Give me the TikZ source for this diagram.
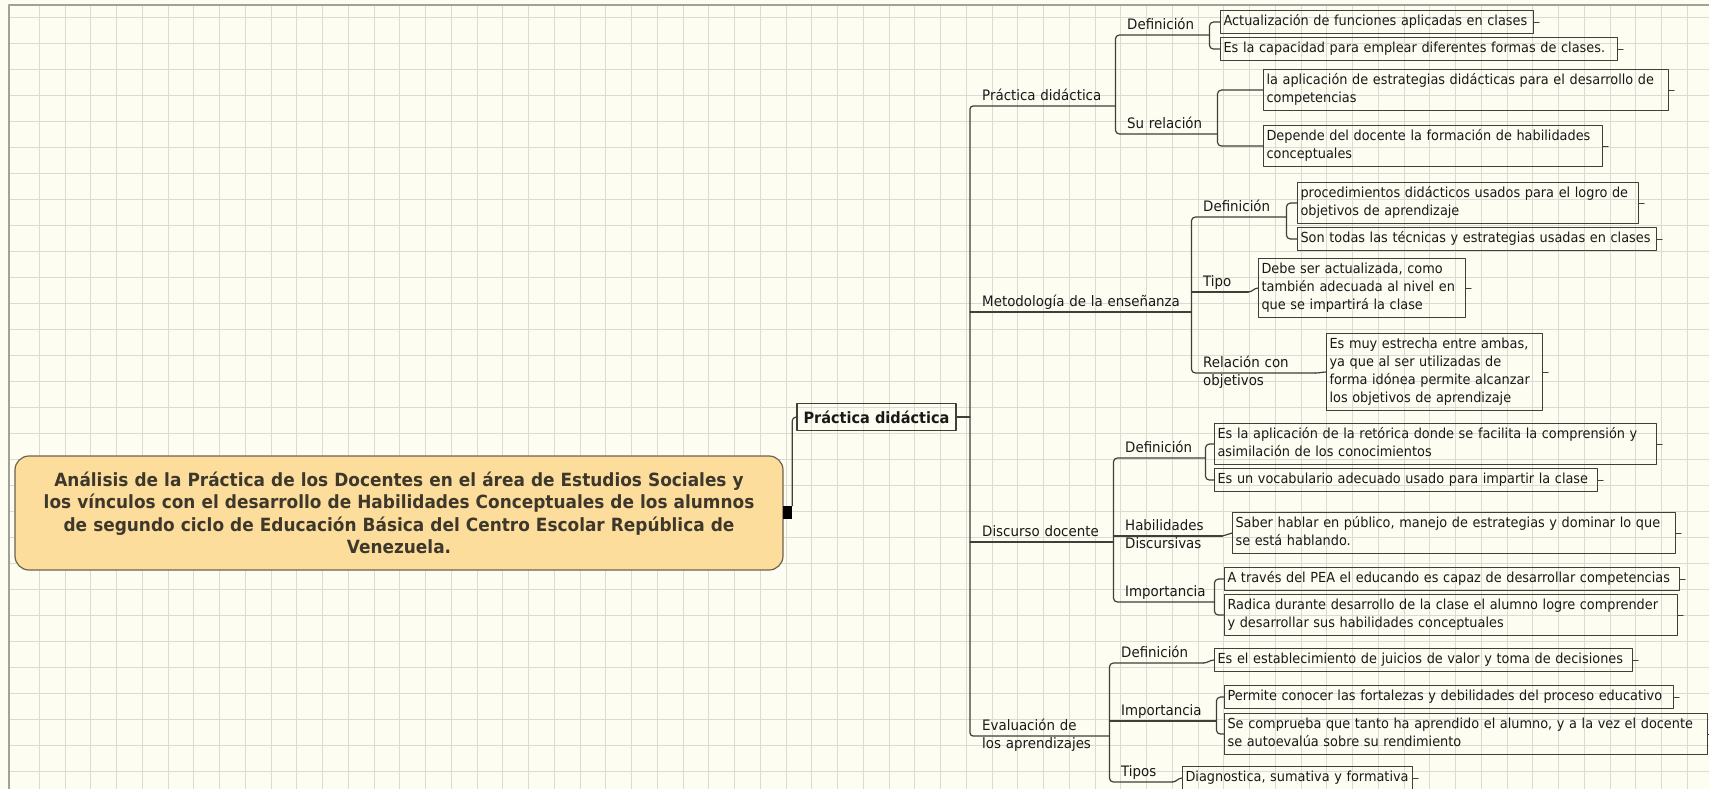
\documentclass[tikz,border=0pt]{standalone}
\usepackage{fontspec}
\setmainfont{DejaVu Sans}[FakeStretch=0.93]
\definecolor{fdfdf1}{rgb}{0.992,0.992,0.945}
\definecolor{dfdfd4}{rgb}{0.86,0.86,0.82}
\definecolor{aaaaa0}{rgb}{0.63,0.63,0.6}
\definecolor{fcdd9c}{rgb}{0.988,0.867,0.612}
\definecolor{wwtttt}{rgb}{0.43,0.39,0.31}
\definecolor{rrqqqq}{rgb}{0.24,0.22,0.17}
\definecolor{qqqqqq}{rgb}{0.1,0.1,0.1}
\definecolor{zzzzzz}{rgb}{0.25,0.25,0.23}

\begin{document}
\begin{tikzpicture}[line cap=round,line join=round,x=1pt,y=-1pt,
	gridline/.style={draw=dfdfd4,line width=0.9pt},
	frameline/.style={draw=aaaaa0,line width=1.4pt},
	conn/.style={draw=zzzzzz,line width=1.2pt},
	rootbox/.style={draw=wwtttt,fill=fcdd9c,line width=1.2pt,rounded corners=14pt,minimum width=768pt,minimum height=114pt,align=center,text width=760pt,text=rrqqqq,font=\fontsize{18.2}{22.5}\selectfont\bfseries},
	port/.style={fill=black,minimum width=9pt,minimum height=13pt,inner sep=0pt},
	mainbox/.style={draw=zzzzzz,line width=1.2pt,minimum width=159pt,minimum height=27pt,inner sep=0pt,text=qqqqqq,font=\fontsize{15.6}{18}\selectfont\bfseries},
	lbl/.style={anchor=south west,align=left,inner xsep=0pt,inner ysep=2pt,text depth=3pt,text=qqqqqq,font=\fontsize{14.4}{17.5}\selectfont},
	leaf/.style={draw=zzzzzz,line width=1.1pt,anchor=north west,align=left,inner xsep=3pt,inner ysep=2.5pt,text=qqqqqq,font=\fontsize{13.85}{18}\selectfont,execute at begin node={\strut\rightskip=0pt plus 1fil minus 40pt},execute at end node=\strut}]
	\useasboundingbox (0,0) rectangle (1709,789);
	\clip (0,0) rectangle (1709,789);
	\fill[fdfdf1] (0,0) rectangle (1709,789);
	\foreach \i in {0,...,65} \draw[gridline] ({39.3+25.75*\i},5) -- (39.3+25.75*\i,789);
	\foreach \j in {0,...,29} \draw[gridline] (9,{17.3+26*\j}) -- (1709,17.3+26*\j);
	\draw[frameline] (1709,5) -- (9,5) -- (9,789);

	% central topic
	\node[rootbox] (root) at (399,513) {Análisis de la Práctica de los Docentes en el área de Estudios Sociales y\\los vínculos con el desarrollo de Habilidades Conceptuales de los alumnos\\de segundo ciclo de Educación Básica del Centro Escolar República de\\Venezuela.};
	\node[port] (port) at (787.5,512.5) {};
	\node[mainbox] (main) at (876.5,417) {Práctica didáctica};
	\coordinate (trunk) at (970,417);

	% main branches
	\node[lbl,text width=133pt] (b1) at (982,106) {Práctica didáctica};
	\node[lbl,text width=209pt] (b2) at (982,312) {Metodología de la enseñanza};
	\node[lbl,text width=131pt] (b3) at (982,542) {Discurso docente};
	\node[lbl,text width=127pt] (b4) at (982,736) {Evaluación de\\los aprendizajes};

	% sub-branches
	\node[lbl,text width=82pt] (b1d) at (1127,35) {Definición};
	\node[lbl,text width=90pt] (b1r) at (1127,134) {Su relación};
	\node[lbl,text width=83pt] (b2d) at (1203,217) {Definición};
	\node[lbl,text width=45pt] (b2t) at (1203,292) {Tipo};
	\node[lbl,text width=112pt] (b2r) at (1203,373) {Relación con\\objetivos};
	\node[lbl,text width=80pt] (b3d) at (1125,458) {Definición};
	\node[lbl,text width=97pt] (b3h) at (1125,536) {Habilidades\\Discursivas};
	\node[lbl,text width=89pt] (b3i) at (1125,602) {Importancia};
	\node[lbl,text width=82pt] (b4d) at (1121,663) {Definición};
	\node[lbl,text width=95pt] (b4i) at (1121,721) {Importancia};
	\node[lbl,text width=51pt] (b4t) at (1121,782) {Tipos};

	% leaves
	\node[leaf,text width=307pt] (b1d1) at (1220,10) {Actualización de funciones aplicadas en clases};
	\node[leaf,text width=391pt] (b1d2) at (1220,37) {Es la capacidad para emplear diferentes formas de clases.};
	\node[leaf,text width=399pt] (b1r1) at (1263,69) {la aplicación de estrategias didácticas para el desarrollo de\\competencias};
	\node[leaf,text width=333pt] (b1r2) at (1263,125) {Depende del docente la formación de habilidades\\conceptuales};
	\node[leaf,text width=335pt] (b2d1) at (1297,182) {procedimientos didácticos usados para el logro de\\objetivos de aprendizaje};
	\node[leaf,text width=353pt] (b2d2) at (1297,227) {Son todas las técnicas y estrategias usadas en clases};
	\node[leaf,text width=201pt] (b2t1) at (1258,258) {Debe ser actualizada, como\\también adecuada al nivel en\\que se impartirá la clase};
	\node[leaf,text width=210pt] (b2r1) at (1326,333) {Es muy estrecha entre ambas,\\ya que al ser utilizadas de\\forma idónea permite alcanzar\\los objetivos de aprendizaje};
	\node[leaf,text width=436pt] (b3d1) at (1214,423) {Es la aplicación de la retórica donde se facilita la comprensión y\\asimilación de los conocimientos};
	\node[leaf,text width=377pt] (b3d2) at (1214,468) {Es un vocabulario adecuado usado para impartir la clase};
	\node[leaf,text width=437pt] (b3h1) at (1232,512) {Saber hablar en público, manejo de estrategias y dominar lo que\\se está hablando.};
	\node[leaf,text width=449pt] (b3i1) at (1224,567) {A través del PEA el educando es capaz de desarrollar competencias};
	\node[leaf,text width=447pt] (b3i2) at (1224,594) {Radica durante desarrollo de la clase el alumno logre comprender\\y desarrollar sus habilidades conceptuales};
	\node[leaf,text width=412pt] (b4d1) at (1214,648) {Es el establecimiento de juicios de valor y toma de decisiones};
	\node[leaf,text width=443pt] (b4i1) at (1224,685) {Permite conocer las fortalezas y debilidades del proceso educativo};
	\node[leaf,text width=477pt] (b4i2) at (1224,713) {Se comprueba que tanto ha aprendido el alumno, y a la vez el docente\\se autoevalúa sobre su rendimiento};
	\node[leaf,text width=224pt] (b4t1) at (1182,766) {Diagnostica, sumativa y formativa};

	% connectors
	\draw[conn,rounded corners=4pt] (port.north east) |- (main.west);
	\draw[conn] (main.east) -- (trunk);
	\draw[conn,rounded corners=3pt] (b1.south east) -- (b1.south west -| trunk) -- (b4.south west -| trunk) -- (b4.south east);
	\draw[conn] (b2.south west -| trunk) -- (b2.south east);
	\draw[conn] (b3.south west -| trunk) -- (b3.south east);

	\draw[conn,rounded corners=4pt] (b1d.south east) -- (b1d.south west -| b1.south east) -- (b1r.south west -| b1.south east) -- (b1r.south east);
	\draw[conn,rounded corners=4pt] (b2d.south east) -- (b2d.south west -| b2.south east) -- (b2r.south west -| b2.south east) -- (b2r.south east);
	\draw[conn] (b2t.south west -| b2.south east) -- (b2t.south east);
	\draw[conn,rounded corners=4pt] (b3d.south east) -- (b3d.south west -| b3.south east) -- (b3i.south west -| b3.south east) -- (b3i.south east);
	\draw[conn] (b3h.south west -| b3.south east) -- (b3h.south east);
	\draw[conn,rounded corners=4pt] (b4d.south east) -- (b4d.south west -| b4.south east) -- (b4t.south west -| b4.south east) -- (b4t.south east);
	\draw[conn] (b4i.south west -| b4.south east) -- (b4i.south east);

	\foreach \p/\c in {b1d/b1d1,b1d/b1d2,b1r/b1r1,b1r/b1r2,b2d/b2d1,b2d/b2d2,b3d/b3d1,b3d/b3d2,b3i/b3i1,b3i/b3i2,b4i/b4i1,b4i/b4i2}
		\draw[conn,rounded corners=4pt] (\p.south east) |- (\c.west);
	\foreach \p/\c in {b2t/b2t1,b2r/b2r1,b3h/b3h1,b4d/b4d1,b4t/b4t1}
		\draw[conn] (\p.south east) to[out=0,in=180] (\c.west);
	\foreach \c in {b1d1,b1d2,b1r1,b1r2,b2d1,b2d2,b2t1,b2r1,b3d1,b3d2,b3h1,b3i1,b3i2,b4d1,b4i1,b4i2,b4t1}
		\draw[conn,line width=0.8pt] (\c.east) -- ++(5,0);
\end{tikzpicture}
\end{document}
